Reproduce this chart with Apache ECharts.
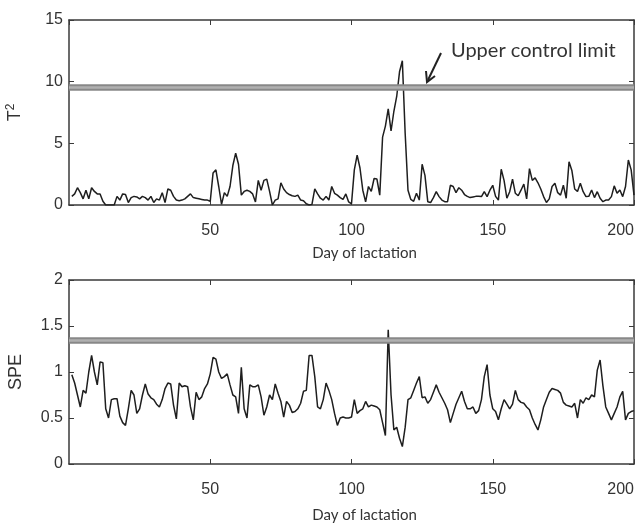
<!DOCTYPE html>
<html>
<head>
<meta charset="utf-8">
<script src="https://cdn.jsdelivr.net/npm/echarts@6/dist/echarts.min.js"></script>
<style>
  html, body { margin: 0; padding: 0; background: #fff; }
  #main { width: 636px; height: 524px; }
</style>
</head>
<body>
<div id="main"></div>
<script>
// T2 statistic, one value per day of lactation (day 1 .. 200)
var t2 = [
  0.7, 0.9, 1.4, 1.0, 0.5, 1.2, 0.5, 1.4, 1.1, 0.9,
  0.9, 0.3, 0, 0, 0, 0, 0.7, 0.4, 0.9, 0.85,
  0.2, 0.6, 0.7, 0.65, 0.5, 0.7, 0.6, 0.4, 0.7, 0.2,
  0.5, 0.4, 1.0, 0.2, 1.3, 1.2, 0.7, 0.4, 0.35, 0.4,
  0.5, 0.7, 0.9, 0.6, 0.55, 0.5, 0.45, 0.4, 0.4, 0.3,
  2.6, 2.85, 1.5, 0.05, 1.0, 0.7, 1.5, 3.2, 4.2, 3.3,
  0.8, 1.1, 1.2, 1.1, 0.9, 0.25, 2.0, 1.2, 2.0, 2.1,
  1.1, 0, 0.4, 0.5, 1.8, 1.3, 1.0, 0.85, 0.75, 0.7,
  0.8, 0.4, 0.35, 0.1, 0, 0.05, 1.3, 0.9, 0.55, 0.4,
  0.7, 0.4, 1.5, 0.95, 0.8, 0.6, 0.45, 0.9, 0.25, 0.1,
  2.85, 4.05, 3.0, 1.2, 0.25, 1.5, 1.1, 2.15, 2.1, 0.8,
  5.5, 6.4, 7.8, 6.0, 7.6, 8.8, 10.8, 11.7, 5.8, 1.2,
  0.45, 0.3, 0.95, 0.4, 3.3, 2.4, 0.27, 0.2, 0.6, 1.08,
  0.68, 0.4, 0.27, 0.27, 1.6, 1.5, 1.0, 1.4, 1.2, 0.85,
  0.7, 0.6, 0.65, 0.7, 0.7, 0.68, 1.08, 0.68, 1.2, 1.6,
  0.7, 0.4, 2.9, 2.0, 0.55, 1.08, 2.1, 0.95, 0.75, 1.2,
  1.7, 0.5, 2.95, 2.0, 2.2, 1.8, 1.3, 0.68, 0.2, 0.5,
  1.5, 1.76, 1.0, 0.8, 1.6, 0.55, 3.5, 2.8, 1.3, 1.1,
  1.76, 1.08, 0.68, 0.7, 1.22, 0.6, 1.08, 0.55, 0.27, 0.4,
  0.4, 0.68, 1.55, 0.95, 1.22, 0.68, 1.5, 3.65, 2.85, 0.8
];

// SPE statistic, one value per day of lactation (day 1 .. 200)
var spe = [
  0.97, 0.88, 0.75, 0.62, 0.8, 0.77, 1.0, 1.18, 1.0, 0.86,
  1.11, 1.1, 0.6, 0.5, 0.7, 0.71, 0.71, 0.52, 0.45, 0.42,
  0.6, 0.8, 0.75, 0.55, 0.6, 0.75, 0.87, 0.76, 0.72, 0.7,
  0.65, 0.62, 0.7, 0.82, 0.88, 0.87, 0.64, 0.49, 0.88, 0.84,
  0.85, 0.84, 0.62, 0.48, 0.78, 0.7, 0.73, 0.82, 0.87, 0.98,
  1.16, 1.14, 1.0, 0.93, 0.95, 0.98, 0.86, 0.75, 0.73, 0.55,
  1.05, 0.6, 0.5, 0.86, 0.84, 0.84, 0.86, 0.73, 0.53, 0.62,
  0.75, 0.7, 0.87, 0.77, 0.68, 0.51, 0.68, 0.64, 0.56, 0.57,
  0.6, 0.66, 0.79, 0.8, 1.18, 1.18, 0.95, 0.62, 0.6, 0.7,
  0.88, 0.8, 0.7, 0.55, 0.42, 0.5, 0.51, 0.5, 0.5, 0.51,
  0.7, 0.55, 0.58, 0.6, 0.68, 0.62, 0.64, 0.63, 0.62, 0.59,
  0.45, 0.31, 1.46, 0.75, 0.37, 0.4, 0.28, 0.19, 0.4, 0.7,
  0.72, 0.8, 0.88, 0.95, 0.72, 0.73, 0.66, 0.7, 0.78, 0.86,
  0.78, 0.72, 0.66, 0.59, 0.45, 0.55, 0.65, 0.72, 0.79, 0.68,
  0.6, 0.6, 0.62, 0.55, 0.58, 0.7, 0.95, 1.08, 0.75, 0.6,
  0.57, 0.48, 0.6, 0.7, 0.65, 0.6, 0.65, 0.8, 0.7, 0.67,
  0.66, 0.62, 0.59, 0.5, 0.43, 0.37, 0.48, 0.62, 0.7, 0.78,
  0.82, 0.81, 0.8, 0.77, 0.67, 0.64, 0.63, 0.62, 0.66, 0.5,
  0.7, 0.66, 0.72, 0.7, 0.75, 0.73, 1.02, 1.13, 0.85, 0.62,
  0.55, 0.48, 0.55, 0.62, 0.73, 0.79, 0.48, 0.55, 0.57, 0.58
];

var t2Limit = 9.55;
var speLimit = 1.34;

function pairs(vals) {
  return vals.map(function (v, i) { return [i + 1, v]; });
}

var axisColor = '#3a3a3a';
var textColor = '#333';
var tickFont = '"Liberation Sans", Arial, sans-serif';
var nameFont = 'Lato, "Open Sans", sans-serif';

function xAxisFor(gridIndex, nameGap) {
  return [{
    type: 'value', gridIndex: gridIndex, min: 0, max: 200, interval: 50,
    axisLine: { onZero: false, lineStyle: { color: axisColor, width: 1.5 } },
    axisTick: { inside: true, length: 5, lineStyle: { color: axisColor } },
    axisLabel: {
      showMinLabel: false, margin: 18, color: textColor,
      fontFamily: tickFont, fontSize: 16, alignMaxLabel: 'right'
    },
    splitLine: { show: false },
    name: 'Day of lactation', nameLocation: 'middle', nameGap: nameGap,
    nameTextStyle: { fontFamily: nameFont, fontSize: 15, color: textColor, padding: [0, 0, 0, 26] }
  }, {
    type: 'value', gridIndex: gridIndex, position: 'top', min: 0, max: 200, interval: 50,
    axisLine: { onZero: false, lineStyle: { color: axisColor, width: 1.5 } },
    axisTick: { inside: true, length: 5, lineStyle: { color: axisColor } },
    axisLabel: { show: false },
    splitLine: { show: false }
  }];
}

function yAxisFor(gridIndex, max, interval, name) {
  return [{
    type: 'value', gridIndex: gridIndex, min: 0, max: max, interval: interval,
    axisLine: { show: true, onZero: false, lineStyle: { color: axisColor, width: 1.5 } },
    axisTick: { show: true, inside: true, length: 5, lineStyle: { color: axisColor } },
    axisLabel: { margin: 6, color: textColor, fontFamily: tickFont, fontSize: 16 },
    splitLine: { show: false },
    name: name, nameLocation: 'middle', nameGap: 44,
    nameTextStyle: {
      fontFamily: tickFont, fontSize: 18, color: textColor,
      rich: { s: { fontFamily: tickFont, fontSize: 12, color: textColor, padding: [0, 0, 8, 0] } }
    }
  }, {
    type: 'value', gridIndex: gridIndex, position: 'right', min: 0, max: max, interval: interval,
    axisLine: { show: true, onZero: false, lineStyle: { color: axisColor, width: 1.5 } },
    axisTick: { show: true, inside: true, length: 5, lineStyle: { color: axisColor } },
    axisLabel: { show: false },
    splitLine: { show: false }
  }];
}

function limitLines(value) {
  return {
    silent: true, symbol: 'none', label: { show: false },
    data: [
      { yAxis: value, lineStyle: { color: '#888', width: 6.5, type: 'solid' } },
      { yAxis: value, lineStyle: { color: '#b0b0b0', width: 2.5, type: 'solid' } }
    ]
  };
}

var chart = echarts.init(document.getElementById('main'));

chart.setOption({
  backgroundColor: '#fff',
  animation: false,
  grid: [
    { left: 69, right: 2, top: 20, height: 185, outerBoundsMode: 'none' },
    { left: 69, right: 2, top: 280, height: 184, outerBoundsMode: 'none' }
  ],
  xAxis: xAxisFor(0, 41).concat(xAxisFor(1, 44)),
  yAxis: yAxisFor(0, 15, 5, 'T{s|2}').concat(yAxisFor(1, 2, 0.5, 'SPE')),
  series: [
    {
      type: 'line', xAxisIndex: 0, yAxisIndex: 0, data: [],
      markLine: limitLines(t2Limit), z: 1
    },
    {
      type: 'line', xAxisIndex: 0, yAxisIndex: 0, data: pairs(t2),
      symbol: 'none', lineStyle: { color: '#1e1e1e', width: 1.5 }, z: 3
    },
    {
      type: 'line', xAxisIndex: 2, yAxisIndex: 2, data: [],
      markLine: limitLines(speLimit), z: 1
    },
    {
      type: 'line', xAxisIndex: 2, yAxisIndex: 2, data: pairs(spe),
      symbol: 'none', lineStyle: { color: '#1e1e1e', width: 1.5 }, z: 3
    }
  ],
  graphic: [
    {
      type: 'text', left: 451, top: 41,
      style: { text: 'Upper control limit', fontFamily: nameFont, fontSize: 20, fill: textColor }
    },
    {
      type: 'line', shape: { x1: 441, y1: 53, x2: 428, y2: 80 },
      style: { stroke: '#222', lineWidth: 2 }
    },
    {
      type: 'polyline', shape: { points: [[426, 71], [427, 82], [435, 76]] },
      style: { stroke: '#222', lineWidth: 2, fill: null }
    }
  ]
});
</script>
</body>
</html>
